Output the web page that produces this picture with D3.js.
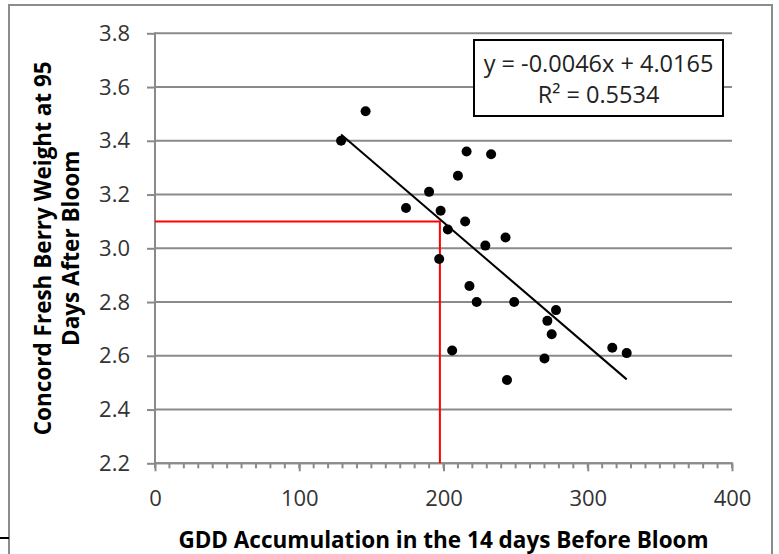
<!DOCTYPE html>
<html>
<head>
<meta charset="utf-8">
<script src="https://cdn.jsdelivr.net/npm/d3@7"></script>
<style>
	body { margin: 0; background: #fff; }
	text { font-family: "Open Sans", sans-serif; }
	.tickLabel { fill: #333; font-size: 22px; }
	.axisTitle { fill: #000; font-size: 22.5px; font-weight: bold; }
	.fitText { fill: #222; font-size: 23.5px; }
	.grid { stroke: #8a8a8a; stroke-width: 2; }
	.dot { fill: #000; }
	.fit { stroke: #000; stroke-width: 2; }
	.guide { stroke: #ff0000; stroke-width: 2; fill: none; }
</style>
</head>
<body>
<div id="chart"></div>
<script>
// values
var gdd = [129, 146, 174, 190, 197, 198, 203, 206, 210, 215, 216, 218, 223, 229, 233, 243, 244, 249, 270, 272, 275, 278, 317, 327];
var berryWeight = [3.40, 3.51, 3.15, 3.21, 2.96, 3.14, 3.07, 2.62, 3.27, 3.10, 3.36, 2.86, 2.80, 3.01, 3.35, 3.04, 2.51, 2.80, 2.59, 2.73, 2.68, 2.77, 2.63, 2.61];
var xTicks = [0, 100, 200, 300, 400];
var yTicks = [2.2, 2.4, 2.6, 2.8, 3.0, 3.2, 3.4, 3.6, 3.8];
var fitSlope = -0.0046, fitIntercept = 4.0165, fitR2 = 0.5534;
var guideGdd = 197.5, guideWeight = 3.1;

function scatterChart(){

	var options = {
		w: 779,
		h: 554,
		plot: { left: 155, right: 732, top: 33.3, bottom: 463.3 },
		ticks: { major: 8, minor: 5, pad: 17 },
		dot: { r: 5 },
		box: { x: 474, y: 40, w: 249, h: 76 }
	};

	var svg, x, y;

	function fitValue(v){
		return fitIntercept + fitSlope * v;
	}

	function draw(){
		svg = d3.select('#chart')
			.append('svg')
			.attr('width', options.w)
			.attr('height', options.h);

		x = d3.scaleLinear().domain([0, 400]).range([options.plot.left, options.plot.right]);
		y = d3.scaleLinear().domain([2.2, 3.8]).range([options.plot.bottom, options.plot.top]);

		// outer frame (bottom runs off the picture)
		svg.append('rect')
			.attr('x', 9).attr('y', 5)
			.attr('width', 763).attr('height', 600)
			.attr('fill', 'none')
			.attr('stroke', '#8c8c8c')
			.attr('stroke-width', 2);
		svg.append('line')
			.attr('x1', 0).attr('x2', 9)
			.attr('y1', 538).attr('y2', 538)
			.attr('stroke', '#000').attr('stroke-width', 2);

		// horizontal gridlines
		svg.append('g')
			.selectAll('line')
			.data(yTicks)
			.enter()
			.append('line')
			.attr('class', 'grid')
			.attr('x1', options.plot.left)
			.attr('x2', options.plot.right)
			.attr('y1', y)
			.attr('y2', y);

		// y axis
		var yAxis = svg.append('g')
			.attr('transform', 'translate(' + options.plot.left + ',0)')
			.call(d3.axisLeft(y)
				.tickValues(yTicks)
				.tickFormat(d3.format('.1f'))
				.tickSize(options.ticks.major)
				.tickPadding(options.ticks.pad));
		yAxis.select('.domain').remove();
		yAxis.selectAll('.tick line').attr('class', 'grid');
		yAxis.selectAll('.tick text').attr('class', 'tickLabel');
		svg.append('line')
			.attr('class', 'grid')
			.attr('x1', options.plot.left).attr('x2', options.plot.left)
			.attr('y1', y(3.8) - 1).attr('y2', y(2.2) + 1);

		// x axis with minor ticks
		svg.append('g')
			.selectAll('line')
			.data(d3.range(0, 401, 10))
			.enter()
			.append('line')
			.attr('class', 'grid')
			.attr('x1', x)
			.attr('x2', x)
			.attr('y1', options.plot.bottom)
			.attr('y2', options.plot.bottom + options.ticks.minor);

		var xAxis = svg.append('g')
			.attr('transform', 'translate(0,' + options.plot.bottom + ')')
			.call(d3.axisBottom(x)
				.tickValues(xTicks)
				.tickSize(options.ticks.major)
				.tickPadding(19));
		xAxis.select('.domain').remove();
		xAxis.selectAll('.tick line').attr('class', 'grid');
		xAxis.selectAll('.tick text').attr('class', 'tickLabel');
		svg.append('line')
			.attr('class', 'grid')
			.attr('x1', options.plot.left - 1).attr('x2', options.plot.right + 1)
			.attr('y1', options.plot.bottom).attr('y2', options.plot.bottom);

		// red guide lines
		svg.append('path')
			.attr('class', 'guide')
			.attr('d', 'M' + x(0) + ',' + y(guideWeight) +
				'L' + x(guideGdd) + ',' + y(guideWeight) +
				'L' + x(guideGdd) + ',' + y(2.2));

		// trend line over the data range
		var ext = d3.extent(gdd);
		svg.append('line')
			.attr('class', 'fit')
			.attr('x1', x(ext[0])).attr('y1', y(fitValue(ext[0])))
			.attr('x2', x(ext[1])).attr('y2', y(fitValue(ext[1])));

		// points
		svg.append('g')
			.selectAll('circle')
			.data(gdd)
			.enter()
			.append('circle')
			.attr('class', 'dot')
			.attr('r', options.dot.r)
			.attr('cx', function(d) { return x(d); })
			.attr('cy', function(d, i) { return y(berryWeight[i]); });

		// equation box
		var b = options.box;
		svg.append('rect')
			.attr('x', b.x).attr('y', b.y)
			.attr('width', b.w).attr('height', b.h)
			.attr('fill', '#fff')
			.attr('stroke', '#000')
			.attr('stroke-width', 2);
		svg.append('text')
			.attr('class', 'fitText')
			.attr('x', b.x + b.w / 2).attr('y', b.y + 32)
			.attr('text-anchor', 'middle')
			.text('y = ' + fitSlope + 'x + ' + fitIntercept);
		svg.append('text')
			.attr('class', 'fitText')
			.attr('x', b.x + b.w / 2).attr('y', b.y + 63)
			.attr('text-anchor', 'middle')
			.text('R\u00b2 = ' + fitR2);

		// axis titles
		svg.append('text')
			.attr('class', 'axisTitle')
			.attr('x', (options.plot.left + options.plot.right) / 2)
			.attr('y', 548)
			.attr('text-anchor', 'middle')
			.text('GDD Accumulation in the 14 days Before Bloom');

		var midY = (options.plot.top + options.plot.bottom) / 2;
		svg.append('text')
			.attr('class', 'axisTitle')
			.attr('transform', 'translate(51,' + midY + ') rotate(-90)')
			.attr('text-anchor', 'middle')
			.text('Concord Fresh Berry Weight at 95');
		svg.append('text')
			.attr('class', 'axisTitle')
			.attr('transform', 'translate(79,' + midY + ') rotate(-90)')
			.attr('text-anchor', 'middle')
			.text('Days After Bloom');
	}

	return {
		init: function(){
			draw();
		}
	};
}

scatterChart().init();
</script>
</body>
</html>
